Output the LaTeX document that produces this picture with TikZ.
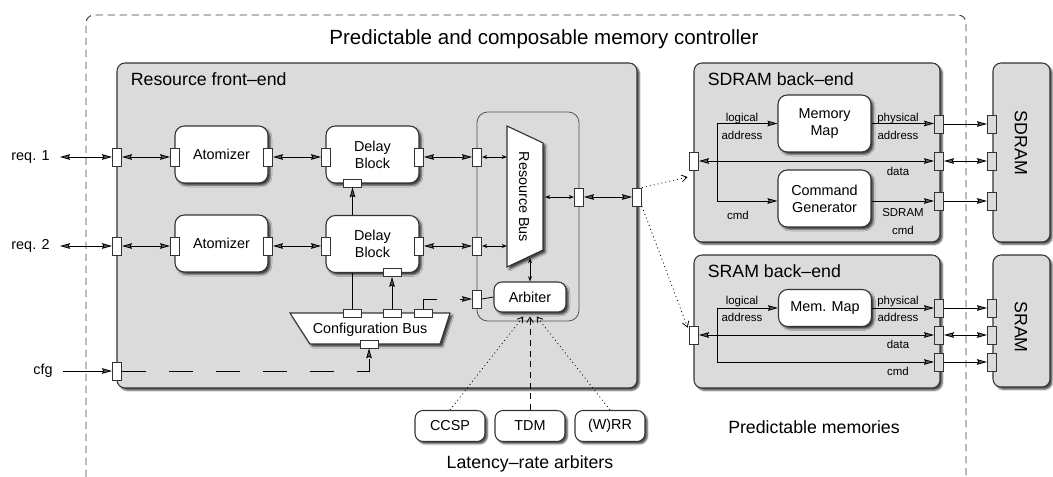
\documentclass[tikz,border=0pt]{standalone}
\usepackage{fontspec}
\setmainfont{Liberation Sans}
\usetikzlibrary{shapes,shapes.geometric,positioning,calc,arrows.meta,shadows.blur}

\definecolor{areagray}{gray}{0.86}
\definecolor{linegray}{gray}{0.2}

\newcommand{\mainsz}{\fontsize{10.8}{12.9}\selectfont}
\newcommand{\titlesz}{\fontsize{15.4}{18}\selectfont}
\newcommand{\headsz}{\fontsize{13.3}{15}\selectfont}
\newcommand{\smallsz}{\fontsize{8.6}{12.9}\selectfont}

\tikzset{
  boxshadow/.style={blur shadow={shadow xshift=1.8pt,shadow yshift=-1.8pt,shadow blur radius=1.2pt,shadow opacity=70}},
  area/.style={draw=linegray, fill=areagray, rounded corners=6pt, line width=.8pt, boxshadow},
  box/.style={draw=linegray, fill=white, rounded corners=7pt, line width=.8pt, boxshadow, align=center, inner sep=0pt, minimum width=69.75pt, minimum height=42.75pt},
  pill/.style={box, rounded corners=6pt, minimum width=52.5pt, minimum height=23.25pt},
  portv/.style={draw=linegray, fill=white, line width=.5pt, inner sep=0pt, minimum width=7pt, minimum height=13.5pt},
  porth/.style={portv, minimum width=13.5pt, minimum height=6pt},
  portg/.style={portv, fill=areagray},
  sbi/.style={arrows={Stealth[length=4pt,width=3pt]-Stealth[length=4pt,width=3pt]}},
  barb/.style={arrows={-Straight Barb[length=4pt,width=5pt]}},
  dotline/.style={dash pattern=on .7pt off 2.3pt},
  cfgdash/.style={dash pattern=on 18pt off 17.25pt},
  lbl/.style={font=\smallsz, align=center}
}

\begin{document}
\begin{tikzpicture}[x=0.75pt,y=-0.75pt,line width=.6pt,font=\mainsz,
  >={Stealth[length=7.5pt,width=4.2pt,inset=1pt]}]
\useasboundingbox (0,0) rectangle (1053,477);
% Controller border
\draw[black!75, line width=.7pt, dash pattern=on 5.5pt off 3.5pt, rounded corners=6pt] (86,477) -- (86,15) -- (966,15) -- (966,477);
\node[font=\titlesz, anchor=base] (title) at (544,45) {Predictable and composable memory controller};

% Resource front-end
\draw[area] (117,63) rectangle (637,388);
\node[font=\headsz, anchor=base west] (fehead) at (126,86) {Resource front--end};
\draw[linegray!85, rounded corners=8pt] (477,112) rectangle (579,321);

\node[box] (atom1) at (221.5,154.5) {Atomizer};
\node[box] (atom2) at (221.5,243.5) {Atomizer};
\node[box] (del1) at (372.5,154.5) {Delay\\Block};
\node[porth] (d1b) at (352.5,183) {};

% Configuration bus
\draw[draw=linegray, fill=white, line width=.8pt, boxshadow] (290,313) -- (450,313) -- (440,344) -- (310,344) -- cycle;
\node (cfgbus) at (370,330) {Configuration Bus};
\node[porth] (c1) at (352.5,313) {};
\node[porth] (c2) at (392,313) {};
\node[porth] (c3) at (423,313) {};
\node[porth] (cb) at (369,344) {};
\draw[->] (c1.north) -- (d1b.south);

\node[box] (del2) at (372.5,244) {Delay\\Block};
\node[porth] (d2b) at (392,272.5) {};
\draw[->] (c2.north) -- (d2b.south);

% Resource bus
\draw[draw=linegray, fill=white, line width=.8pt, boxshadow] (507,126) -- (543,143) -- (543,250) -- (507,267) -- cycle;
\node[rotate=-90] (rbus) at (524,197) {Resource Bus};
\coordinate (rbw) at (507,197);
\coordinate (rbe) at (545,197);
\coordinate (rbs) at (530,258);
\node[pill, minimum width=54pt, minimum height=22.5pt] (arb) at (530,297) {Arbiter};

% Ports
\foreach \name/\x/\y in {fp1/117/157, a1l/175/157, a1r/268/157, d1l/326/157, d1r/419/157, rp1/477/157,
  fp2/117/246, a2l/175/246, a2r/268/246, d2l/326/246, d2r/419/246, rp2/477/246,
  rpa/477/299, rpo/579/197, fpo/637/197, fpc/117/371}
  \node[portv] (\name) at (\x,\y) {};

\node[anchor=east, inner xsep=0pt] (req1) at (50,157) {req. 1};
\node[anchor=east, inner xsep=0pt] (req2) at (50,246) {req. 2};
\node[anchor=east, inner xsep=0pt] (cfg) at (53,371) {cfg};

\draw[<->, shorten <=7.5pt] (req1.east) -- (fp1.west);
\draw[<->, shorten <=7.5pt] (req2.east) -- (fp2.west);
\draw[->, shorten <=7.5pt] (cfg.east) -- (fpc.west);
\draw[<->] (fp1.east) -- (a1l.west);
\draw[<->] (a1r.east) -- (d1l.west);
\draw[<->] (d1r.east) -- (rp1.west);
\draw[<->] (fp2.east) -- (a2l.west);
\draw[<->] (a2r.east) -- (d2l.west);
\draw[<->] (d2r.east) -- (rp2.west);
\draw[sbi] (rp1.east) -- (rp1.east -| rbw);
\draw[sbi] (rp2.east) -- (rp2.east -| rbw);
\draw[sbi] (rbe) -- (rpo.west);
\draw[sbi] (rbs) -- (arb.north);
\draw (rpa.east) -- (arb.west);
\draw[<->] (rpo.east) -- (fpo.west);
\draw[cfgdash, ->] (fpc.east) -| (cb.south);
\draw[cfgdash, ->] (c3.north) |- (rpa.west);

% Latency-rate arbiters
\node[pill] (ccsp) at (450,426) {CCSP};
\node[pill] (tdm) at (530,426) {TDM};
\node[pill] (wrr) at (610,426) {(W)RR};
\node[font=\headsz, anchor=base] (arbtxt) at (530,468) {Latency--rate arbiters};
\draw[dotline, barb] (ccsp.north) -- ([xshift=-5pt,yshift=-3pt]arb.south);
\draw[dash pattern=on 4.5pt off 3.5pt, barb] (tdm.north) -- ([yshift=-3pt]arb.south);
\draw[dotline, barb] (wrr.north) -- ([xshift=5pt,yshift=-3pt]arb.south);

% SDRAM back-end
\draw[area] (694,63) rectangle (940,242);
\node[font=\headsz, anchor=base west] (sdhead) at (703,86) {SDRAM back--end};
\node[box] (mm) at (824.5,123.5) {Memory\\Map};
\node[box] (cg) at (824.5,198.5) {Command\\Generator};
\node[portv] (sdl) at (694,161) {};
\node[portg] (sdr1) at (939,124) {};
\node[portg] (sdr2) at (939,161) {};
\node[portg] (sdr3) at (939,201) {};
\coordinate (sdj) at (717,161);
\draw (sdj |- mm.west) -- (sdj |- sdr3);
\draw[->] (sdj |- mm.west) -- (mm.west);
\draw[->] (sdj |- sdr3) -- (sdr3 -| cg.west);
\draw[<->] (sdl.east) -- (sdr2.west);
\draw[->] (mm.east) -- (mm.east -| sdr1.west);
\draw[->] (sdr3 -| cg.east) -- (sdr3.west);
\node[lbl] (sdlog) at (742,126.5) {logical\\address};
\node[lbl] (sdphy) at (898,126.5) {physical\\address};
\node[lbl] (sddat) at (898,171) {data};
\node[lbl] (sdcmd) at (738,215) {cmd};
\node[lbl] (sdscmd) at (903,221.5) {SDRAM\\cmd};

% SDRAM device
\draw[area] (993,63) rectangle (1050,242);
\node[font=\headsz, rotate=-90] (sdram) at (1021,143) {SDRAM};
\node[portg] (sd1) at (992,124) {};
\node[portg] (sd2) at (992,161) {};
\node[portg] (sd3) at (992,201) {};
\draw[->] (sdr1.east) -- (sd1.west);
\draw[<->] (sdr2.east) -- (sd2.west);
\draw[->] (sdr3.east) -- (sd3.west);

% SRAM back-end
\draw[area] (694,255) rectangle (940,388);
\node[font=\headsz, anchor=base west] (srhead) at (703,277) {SRAM back--end};
\node[box, minimum height=27.75pt] (smm) at (825,308) {Mem. Map};
\node[portv] (srl) at (694,335) {};
\node[portg] (srr1) at (939,308) {};
\node[portg] (srr2) at (939,335) {};
\node[portg] (srr3) at (939,362) {};
\coordinate (srj) at (717,335);
\draw (srj |- smm.west) -- (srj |- srr3);
\draw[->] (srj |- smm.west) -- (smm.west);
\draw[->] (srj |- srr3) -- (srr3.west);
\draw[<->] (srl.east) -- (srr2.west);
\draw[->] (smm.east) -- (srr1.west);
\node[lbl] (srlog) at (742,309) {logical\\address};
\node[lbl] (srphy) at (898,309) {physical\\address};
\node[lbl] (srdat) at (898,344) {data};
\node[lbl] (srcmd) at (898,371) {cmd};

% SRAM device
\draw[area] (993,255) rectangle (1050,387);
\node[font=\headsz, rotate=-90] (sram) at (1021,327) {SRAM};
\node[portg] (sr1) at (992,308) {};
\node[portg] (sr2) at (992,335) {};
\node[portg] (sr3) at (992,362) {};
\draw[->] (srr1.east) -- (sr1.west);
\draw[<->] (srr2.east) -- (sr2.west);
\draw[->] (srr3.east) -- (sr3.west);

\node[font=\headsz, anchor=base] (memtxt) at (814,433) {Predictable memories};

% Links to the back-ends
\draw[dotline, barb] (fpo.north east) -- ([xshift=-1pt,yshift=-5pt]sdl.south west);
\draw[dotline, barb] (fpo.south east) -- ([xshift=-1pt,yshift=-1.5pt]srl.north west);
\end{tikzpicture}
\end{document}
